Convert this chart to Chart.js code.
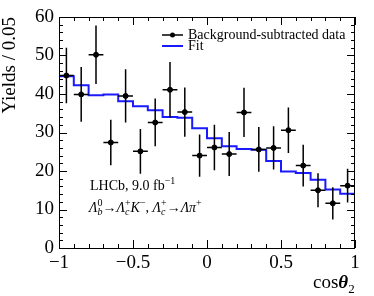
<!DOCTYPE html>
<html>
<head>
<meta charset="utf-8">
<script src="https://cdn.jsdelivr.net/npm/chart.js@4.4.1/dist/chart.umd.min.js"></script>
<style>
  html, body { margin: 0; padding: 0; background: #fff; }
  #wrap { width: 374px; height: 296px; }
</style>
</head>
<body>
<div id="wrap"><canvas id="chart" width="374" height="296"></canvas></div>
<script>
// data (bins of 0.1 in cos(theta2))
const binCentres = [-0.95, -0.85, -0.75, -0.65, -0.55, -0.45, -0.35, -0.25, -0.15, -0.05,
                    0.05, 0.15, 0.25, 0.35, 0.45, 0.55, 0.65, 0.75, 0.85, 0.95];
const dataYields = [44.8, 39.9, 50.2, 27.4, 39.5, 25.1, 32.6, 41.1, 35.3, 24.0,
                    26.1, 24.4, 35.2, 25.6, 26.0, 30.6, 21.4, 15.0, 11.6, 16.2];
const dataErrors = [7.2, 7.1, 7.6, 5.9, 6.9, 5.8, 6.2, 7.2, 6.4, 5.5,
                    5.9, 5.7, 6.4, 5.8, 5.6, 5.9, 5.4, 4.4, 4.2, 4.4];
const binEdges = [-1, -0.9, -0.8, -0.7, -0.6, -0.5, -0.4, -0.3, -0.2, -0.1,
                  0, 0.1, 0.2, 0.3, 0.4, 0.5, 0.6, 0.7, 0.8, 0.9, 1];
const fitYields = [44.6, 42.3, 39.7, 39.9, 38.1, 36.8, 35.8, 34.0, 33.8, 31.1,
                   28.5, 26.4, 25.7, 25.5, 22.6, 19.9, 19.5, 17.7, 15.2, 14.1];
const halfBin = 0.05;

const SERIF = '"Liberation Serif", "Times New Roman", serif';
const FIT_BLUE = '#1a1aff';

function fmtTick(v) {
  const s = String(Math.abs(Math.round(v * 10) / 10));
  return v < 0 ? '\u2212' + s : s;
}

// draws a list of text pieces one after the other
function drawRich(ctx, x, y, parts) {
  for (const p of parts) {
    ctx.font = p.font;
    ctx.fillText(p.t, x, y + (p.dy || 0));
    if (!p.stay) x += ctx.measureText(p.t).width;
  }
  return x;
}

const rm = (s) => `${s}px ${SERIF}`;
const it = (s) => `italic ${s}px ${SERIF}`;

const lhcbPlugin = {
  id: 'lhcbDecor',
  afterDatasetsDraw(chart) {
    const { ctx, chartArea: a, scales: { x, y } } = chart;
    ctx.save();

    // error bars
    ctx.strokeStyle = '#000';
    ctx.lineWidth = 1.5;
    binCentres.forEach((c, i) => {
      const px = x.getPixelForValue(c);
      const py = y.getPixelForValue(dataYields[i]);
      ctx.beginPath();
      ctx.moveTo(px, y.getPixelForValue(dataYields[i] + dataErrors[i]));
      ctx.lineTo(px, y.getPixelForValue(dataYields[i] - dataErrors[i]));
      ctx.moveTo(x.getPixelForValue(c - halfBin), py);
      ctx.lineTo(x.getPixelForValue(c + halfBin), py);
      ctx.stroke();
    });

    // frame
    ctx.lineWidth = 1;
    ctx.strokeRect(a.left + 0.5, a.top + 0.5, a.right - a.left - 1, a.bottom - a.top);

    // inward ticks on all sides
    ctx.beginPath();
    for (let k = -10; k <= 10; k++) {
      const px = Math.round(x.getPixelForValue(k / 10)) + 0.5;
      const len = k % 5 === 0 ? 8 : 4;
      ctx.moveTo(px, a.bottom); ctx.lineTo(px, a.bottom - len);
      ctx.moveTo(px, a.top); ctx.lineTo(px, a.top + len);
    }
    for (let v = 0; v <= 60; v += 2) {
      const py = Math.round(y.getPixelForValue(v)) + 0.5;
      const len = v % 10 === 0 ? 8 : 4;
      ctx.moveTo(a.left, py); ctx.lineTo(a.left + len, py);
      ctx.moveTo(a.right, py); ctx.lineTo(a.right - len, py);
    }
    ctx.stroke();

    ctx.fillStyle = '#000';
    ctx.textBaseline = 'alphabetic';
    ctx.textAlign = 'left';

    // legend
    ctx.lineWidth = 1.5;
    ctx.beginPath();
    ctx.moveTo(162, 35); ctx.lineTo(183, 35);
    ctx.stroke();
    ctx.beginPath();
    ctx.arc(172.5, 35, 2.5, 0, Math.PI * 2);
    ctx.fill();
    ctx.strokeStyle = FIT_BLUE;
    ctx.lineWidth = 2;
    ctx.beginPath();
    ctx.moveTo(162, 46); ctx.lineTo(183, 46);
    ctx.stroke();
    ctx.font = rm(14);
    ctx.fillText('Background-subtracted data', 188, 38.5);
    ctx.fillText('Fit', 188, 50);

    // annotation
    drawRich(ctx, 90, 190, [
      { t: 'LHCb, 9.0 fb', font: rm(14) },
      { t: '\u22121', font: rm(10), dy: -6 }
    ]);
    const sup = -6, sub = 3;
    drawRich(ctx, 89, 212, [
      { t: '\u039B', font: it(14) },
      { t: '0', font: rm(10), dy: sup, stay: true },
      { t: 'b', font: it(10), dy: sub },
      { t: '\u2192', font: rm(14) },
      { t: '\u039B', font: it(14) },
      { t: 'c', font: it(10), dy: sub, stay: true },
      { t: '+', font: rm(10), dy: sup },
      { t: 'K', font: it(14) },
      { t: '\u2212', font: rm(10), dy: sup },
      { t: ', ', font: rm(14) },
      { t: '\u039B', font: it(14) },
      { t: 'c', font: it(10), dy: sub, stay: true },
      { t: '+', font: rm(10), dy: sup },
      { t: '\u2192', font: rm(14) },
      { t: '\u039B\u03C0', font: it(14) },
      { t: '+', font: rm(10), dy: sup }
    ]);

    // axis titles
    drawRich(ctx, 313, 288, [
      { t: 'cos', font: rm(19) },
      { t: '\u03B8', font: `bold italic 19px ${SERIF}` },
      { t: '2', font: rm(13), dy: 5 }
    ]);
    ctx.translate(15, 17);
    ctx.rotate(-Math.PI / 2);
    ctx.textAlign = 'right';
    ctx.font = rm(19);
    ctx.fillText('Yields / 0.05', 0, 0);

    ctx.restore();
  }
};

new Chart(document.getElementById('chart').getContext('2d'), {
  data: {
    datasets: [
      {
        type: 'scatter',
        label: 'Background-subtracted data',
        data: binCentres.map((c, i) => ({ x: c, y: dataYields[i] })),
        backgroundColor: '#000',
        borderColor: '#000',
        pointRadius: 2.5,
        pointHoverRadius: 2.5,
      },
      {
        type: 'line',
        label: 'Fit',
        data: binEdges.map((e, i) => ({ x: e, y: fitYields[Math.min(i, fitYields.length - 1)] })),
        borderColor: FIT_BLUE,
        borderWidth: 2,
        pointRadius: 0,
        stepped: 'before',
        fill: false,
      },
    ],
  },
  options: {
    responsive: false,
    animation: false,
    devicePixelRatio: 1,
    layout: { padding: { left: 0, right: 19, top: 17, bottom: 0 } },
    plugins: {
      legend: { display: false },
      tooltip: { enabled: false },
    },
    scales: {
      x: {
        type: 'linear',
        min: -1,
        max: 1,
        grid: { display: false, drawTicks: false },
        border: { display: false },
        ticks: {
          stepSize: 0.5,
          color: '#000',
          padding: 4,
          maxRotation: 0,
          font: { family: SERIF, size: 19 },
          callback: fmtTick,
        },
        afterFit(scale) { scale.height = 48; },
      },
      y: {
        type: 'linear',
        min: 0,
        max: 60,
        grid: { display: false, drawTicks: false },
        border: { display: false },
        ticks: {
          stepSize: 10,
          color: '#000',
          padding: 5,
          font: { family: SERIF, size: 19 },
          callback: fmtTick,
        },
        afterFit(scale) { scale.width = 59; },
      },
    },
  },
  plugins: [lhcbPlugin],
});
</script>
</body>
</html>
